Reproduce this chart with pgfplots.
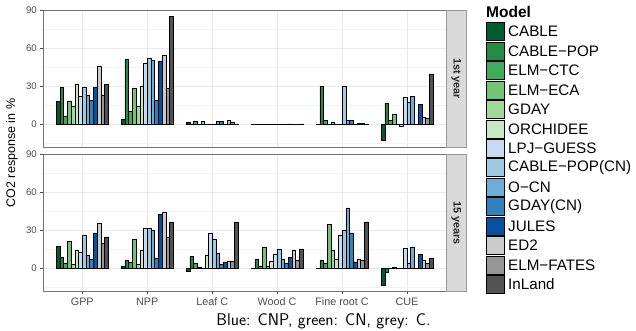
\documentclass[border=0pt]{standalone}
\usepackage{fontspec}
\setmainfont{Liberation Sans}
\usepackage{pgfplots}
\pgfplotsset{compat=1.18}
\usepackage{pgfplotstable}

\definecolor{c1}{HTML}{005A32}
\definecolor{c2}{HTML}{238B45}
\definecolor{c3}{HTML}{41AB5D}
\definecolor{c4}{HTML}{74C476}
\definecolor{c5}{HTML}{A1D99B}
\definecolor{c6}{HTML}{C7E9C0}
\definecolor{c7}{HTML}{C6DBEF}
\definecolor{c8}{HTML}{9ECAE1}
\definecolor{c9}{HTML}{6BAED6}
\definecolor{c10}{HTML}{3182BD}
\definecolor{c11}{HTML}{08519C}
\definecolor{c12}{HTML}{CCCCCC}
\definecolor{c13}{HTML}{969696}
\definecolor{c14}{HTML}{525252}
\definecolor{stripfill}{HTML}{D9D9D9}

% 1st year
\pgfplotstableread{
cat m1 m2 m3 m4 m5 m6 m7 m8 m9 m10 m11 m12 m13 m14
1 18.5 29.2 6.8 18.8 14.6 32.3 22.1 29.4 23.4 19.0 29.7 45.8 22.9 32.0
2 3.9 51.6 10.4 28.4 14.6 30.7 48.4 52.3 51.0 19.0 50.3 54.7 28.9 85.4
3 1.8 0.3 3.0 0.3 2.5 0.3 0.3 0.5 2.5 2.8 0.3 3.5 2.0 0.3
4 0.2 0.5 0.3 0.1 0.2 0.3 0.2 0.2 0.5 0.5 0.6 0.4 0.5 0.6
5 0.3 30.2 3.2 0.5 2.0 0.3 0.3 30.2 3.6 3.2 0.3 1.0 1.0 0.5
6 -12.0 17.2 3.6 8.1 0.3 -1.0 21.9 18.0 22.4 0.3 16.1 6.2 4.7 40.1
}\toptab

% 15 years
\pgfplotstableread{
cat m1 m2 m3 m4 m5 m6 m7 m8 m9 m10 m11 m12 m13 m14
1 17.7 9.3 4.5 21.4 3.2 14.3 13.2 26.2 10.8 7.7 28.3 35.7 19.8 25.1
2 2.1 6.6 5.3 23.3 3.4 14.8 31.7 31.7 30.2 7.9 42.9 44.7 24.9 36.5
3 -2.1 9.8 4.5 1.0 0.5 10.3 27.8 23.0 12.2 3.7 5.3 5.8 6.1 36.5
4 0.3 7.1 1.9 16.9 1.6 6.1 11.6 15.6 7.1 4.0 9.0 14.3 6.6 15.6
5 0.3 6.3 4.5 34.9 14.3 7.7 26.5 30.4 47.9 28.3 5.3 7.7 6.9 37.0
6 -13.1 -2.9 0.5 1.3 0.2 0.2 16.4 4.5 17.2 0.3 11.1 6.3 4.0 8.5
}\bottab

\pgfplotsset{
  panel/.style={
    scale only axis, width=402.7pt, height=137.5pt, anchor=south west,
    xmin=0.4, xmax=6.6, ymin=-18, ymax=90.5,
    axis line style={draw=black!55, line width=0.5pt},
    xtick={1,2,3,4,5,6}, ytick={0,30,60,90}, minor ytick={-15,15,45,75},
    grid=both,
    major grid style={draw=black!9, line width=0.8pt},
    minor grid style={draw=black!5, line width=0.4pt},
    tick align=outside, major tick length=3pt, minor tick length=0pt,
    tick style={draw=black!70, line width=0.5pt},
    xtick pos=left, ytick pos=left,
    yticklabel style={font=\fontsize{9.6}{11}\selectfont, text=black!70},
    xticklabel style={font=\fontsize{10.8}{12}\selectfont, text=black!70},
    /pgf/number format/assume math mode=true,
    every axis plot/.append style={ybar, bar width=0.05714, draw=black, line width=0.5pt},
  }
}

\newcommand{\bars}[1]{%
  \addplot[fill=c1, bar shift=-0.3714] table[x=cat,y=m1]{#1};
  \addplot[fill=c2, bar shift=-0.3143] table[x=cat,y=m2]{#1};
  \addplot[fill=c3, bar shift=-0.2571] table[x=cat,y=m3]{#1};
  \addplot[fill=c4, bar shift=-0.2000] table[x=cat,y=m4]{#1};
  \addplot[fill=c5, bar shift=-0.1429] table[x=cat,y=m5]{#1};
  \addplot[fill=c6, bar shift=-0.0857] table[x=cat,y=m6]{#1};
  \addplot[fill=c7, bar shift=-0.0286] table[x=cat,y=m7]{#1};
  \addplot[fill=c8, bar shift=0.0286] table[x=cat,y=m8]{#1};
  \addplot[fill=c9, bar shift=0.0857] table[x=cat,y=m9]{#1};
  \addplot[fill=c10, bar shift=0.1429] table[x=cat,y=m10]{#1};
  \addplot[fill=c11, bar shift=0.2000] table[x=cat,y=m11]{#1};
  \addplot[fill=c12, bar shift=0.2571] table[x=cat,y=m12]{#1};
  \addplot[fill=c13, bar shift=0.3143] table[x=cat,y=m13]{#1};
  \addplot[fill=c14, bar shift=0.3714] table[x=cat,y=m14]{#1};
}

\begin{document}
\begin{tikzpicture}
\useasboundingbox (0,0) rectangle (636pt,331pt);

\begin{axis}[panel, at={(43.3pt,183.5pt)}, xticklabels={}, x tick style={draw=none}]
\bars{\toptab}
\end{axis}

\begin{axis}[panel, at={(43.3pt,39.5pt)},
  xticklabels={GPP,NPP,Leaf C,Wood C,Fine root C,CUE}]
\bars{\bottab}
\end{axis}

% facet strips
\draw[fill=stripfill, draw=black!40, line width=0.5pt] (446pt,183.5pt) rectangle (466.5pt,321pt);
\draw[fill=stripfill, draw=black!40, line width=0.5pt] (446pt,39.5pt) rectangle (466.5pt,177pt);
\node[rotate=-90, font=\fontsize{10.8}{12}\selectfont\bfseries, text=black!85] at (456.25pt,252.25pt) {1st year};
\node[rotate=-90, font=\fontsize{10.8}{12}\selectfont\bfseries, text=black!85] at (456.25pt,108.25pt) {15 years};

% y label
\node[rotate=90, font=\fontsize{12.5}{14}\selectfont] at (12pt,178pt) {CO2 response in \%};

% legend
\node[anchor=base west, font=\fontsize{15.5}{17}\selectfont\bfseries, inner sep=0pt] at (486pt,313pt) {Model};
\foreach \i/\name in {1/CABLE,2/CABLE−POP,3/ELM−CTC,4/ELM−ECA,5/GDAY,6/ORCHIDEE,7/LPJ−GUESS,8/CABLE−POP(CN),9/O−CN,10/GDAY(CN),11/JULES,12/ED2,13/ELM−FATES,14/InLand}{
  \filldraw[fill=c\i, draw=black, line width=0.7pt] (486pt,{308.3pt-(\i-1)*19.45pt}) rectangle ++(18.5pt,-18pt);
  \node[anchor=west, font=\fontsize{15.2}{17}\selectfont, inner sep=0pt] at (508pt,{299.3pt-(\i-1)*19.45pt}) {\name};
}

% caption
\node[anchor=base, font=\sffamily\fontsize{17}{19}\selectfont, inner sep=0pt] at (323.5pt,5pt) {Blue: CNP, green: CN, grey: C.};
\end{tikzpicture}
\end{document}
